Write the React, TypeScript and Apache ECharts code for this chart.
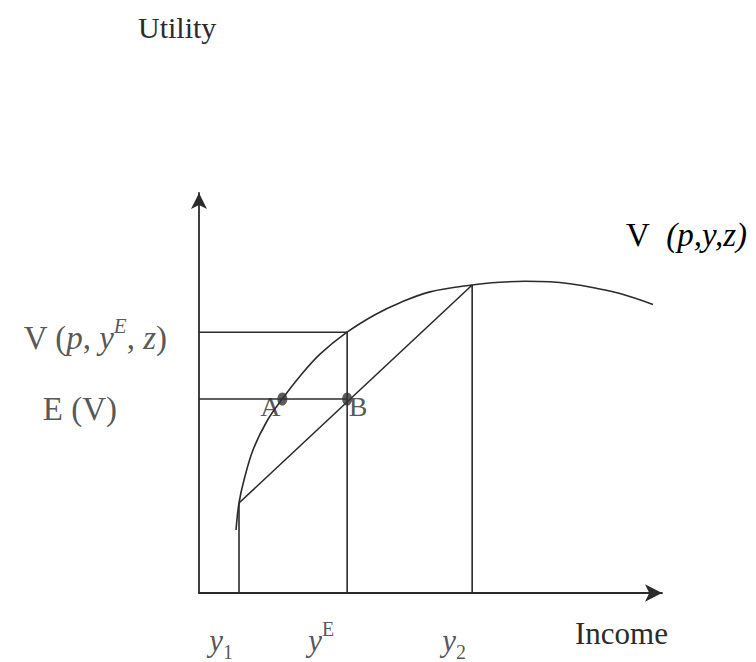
import React, { useEffect, useRef } from "react";
import * as echarts from "echarts";

// Utility curve V(p,y,z): [income, utility]
const curvePoints: [number, number][] = [
  [7.99, 15.75], [8.64, 22.5], [9.72, 28.25], [11.66, 35.75], [14.69, 43.0],
  [18.14, 48.75], [21.81, 54.2], [26.13, 59.7], [31.97, 65.2], [38.01, 69.58],
  [43.41, 72.58], [49.89, 75.28], [58.96, 77.0], [65.01, 77.68], [70.41, 77.93],
  [75.81, 77.8], [80.13, 77.3], [85.53, 76.23], [90.93, 74.85], [98.06, 72.13],
];

// key values
const incomeLevels = { y1: 8.64, yE: 32.0, y2: 59.0 };
const utilityLevels = { v1: 22.5, vE: 65.2, v2: 77.0, ev: 48.5 };
const pointA: [number, number] = [18.0, 48.5];
const pointB: [number, number] = [32.0, 48.5];

const xTickLabels = [
  { x: incomeLevels.y1, text: "{i|y}{sub|1}" },
  { x: incomeLevels.yE, text: "{i|y}{sup|E}" },
  { x: incomeLevels.y2, text: "{i|y}{sub|2}" },
];
const yTickLabels = [
  { y: utilityLevels.vE, text: "{r|V (}{i|p}{r|, }{i|y}{supI|E}{r|, }{i|z}{r|)}" },
  { y: utilityLevels.ev, text: "{r|E (V)}" },
];

// label nudges (px)
const xLabelShift = [-18, -26, -18];
const yLabelDistance = [32, 82];
const yLabelDrop = [6, 10];

const FONT = "'Liberation Serif', 'Times New Roman', serif";
const INK = "#2b2b2b";

const makeRich = (fs: number, sfs: number) => ({
  r: { fontFamily: FONT, fontSize: fs, color: INK, lineHeight: fs + 12 },
  i: { fontFamily: FONT, fontSize: fs, color: INK, fontStyle: "italic", lineHeight: fs + 12 },
  sup: { fontFamily: FONT, fontSize: sfs, color: INK, verticalAlign: "top", lineHeight: fs + 12 },
  supI: { fontFamily: FONT, fontSize: sfs, color: INK, fontStyle: "italic", verticalAlign: "top", lineHeight: fs + 12 },
  sub: { fontFamily: FONT, fontSize: sfs, color: INK, verticalAlign: "bottom", lineHeight: fs + 12 },
});

export default function App() {
  const ref = useRef<HTMLDivElement>(null);
  useEffect(() => {
    if (!ref.current) return;
    const chart = echarts.init(ref.current, null, { renderer: "svg" });

    const segments: [number, number][][] = [
      [[incomeLevels.y1, 0], [incomeLevels.y1, utilityLevels.v1]],
      [[incomeLevels.yE, 0], [incomeLevels.yE, utilityLevels.vE]],
      [[incomeLevels.y2, 0], [incomeLevels.y2, utilityLevels.v2]],
      [[0, utilityLevels.vE], [incomeLevels.yE, utilityLevels.vE]],
      [[0, utilityLevels.ev], [incomeLevels.yE, utilityLevels.ev]],
      [[incomeLevels.y1, utilityLevels.v1], [incomeLevels.y2, utilityLevels.v2]],
    ];

    const lineStyle = { color: INK, width: 1.6 };

    chart.setOption({
      animation: false,
      backgroundColor: "#ffffff",
      grid: { left: 199, right: 94, top: 193, bottom: 69, containLabel: false },
      xAxis: {
        type: "value",
        min: 0,
        max: 100,
        axisLine: { show: true, symbol: ["none", "arrow"], symbolSize: [13, 17], lineStyle: { color: INK, width: 1.8 } },
        axisTick: { show: false },
        axisLabel: { show: false },
        splitLine: { show: false },
      },
      yAxis: {
        type: "value",
        min: 0,
        max: 100,
        axisLine: { show: true, symbol: ["none", "arrow"], symbolSize: [12, 16], lineStyle: { color: INK, width: 1.8 } },
        axisTick: { show: false },
        axisLabel: { show: false },
        splitLine: { show: false },
      },
      series: [
        {
          type: "line",
          name: "V(p,y,z)",
          data: curvePoints,
          smooth: 0.35,
          showSymbol: false,
          lineStyle,
          clip: false,
        },
        ...segments.map((seg) => ({
          type: "line",
          data: seg,
          showSymbol: false,
          lineStyle,
          clip: false,
        })),
        {
          type: "scatter",
          data: [pointA, pointB],
          symbol: "circle",
          symbolSize: [10, 13],
          itemStyle: { color: "#333" },
          z: 5,
        },
        {
          type: "scatter",
          data: [
            { value: pointA, label: { show: true, formatter: "A", position: "bottom", offset: [-12, -12] } },
            { value: pointB, label: { show: true, formatter: "B", position: "bottom", offset: [11, -12] } },
          ],
          symbolSize: 0,
          label: { fontFamily: FONT, fontSize: 28, color: INK },
          silent: true,
        },
        {
          type: "scatter",
          data: xTickLabels.map((t, k) => ({
            value: [t.x, 0],
            label: { formatter: t.text, offset: [xLabelShift[k], 0] },
          })),
          symbolSize: 0,
          silent: true,
          label: { show: true, position: "bottom", distance: 26, rich: makeRich(31, 20) },
        },
        {
          type: "scatter",
          data: yTickLabels.map((t, k) => ({
            value: [0, t.y],
            label: { formatter: t.text, distance: yLabelDistance[k], offset: [0, yLabelDrop[k]] },
          })),
          symbolSize: 0,
          silent: true,
          label: { show: true, position: "left", rich: makeRich(33, 21) },
        },
      ],
      graphic: [
        { type: "text", left: 138, top: 12, style: { text: "Utility", font: `30px ${FONT}`, fill: INK } },
        { type: "text", left: 575, top: 618, style: { text: "Income", font: `31px ${FONT}`, fill: INK } },
        {
          type: "text",
          left: 626,
          top: 218,
          style: { text: "{r|V  }{i|(p,y,z)}", rich: makeRich(33, 21) },
        },
      ],
    });
    return () => chart.dispose();
  }, []);
  return <div ref={ref} style={{ position: "absolute", left: 0, top: 0, width: 756, height: 662 }} />;
}
